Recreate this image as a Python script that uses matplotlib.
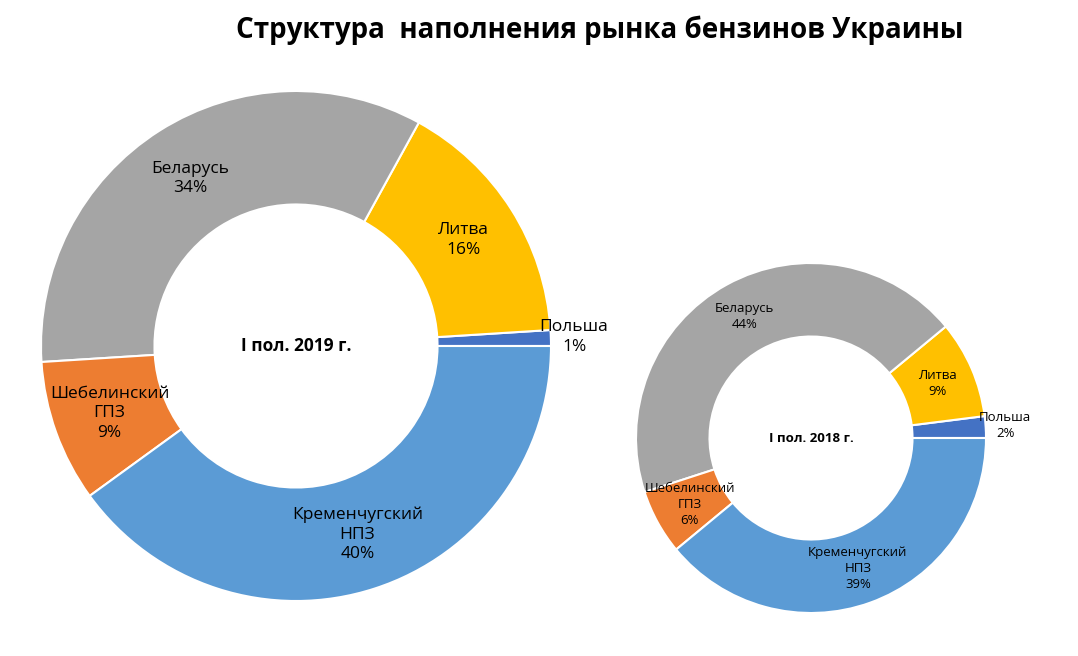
import matplotlib
matplotlib.use("Agg")
import matplotlib.pyplot as plt
import numpy as np

categories = ["Польша", "Литва", "Беларусь", "Шебелинский\nГПЗ", "Кременчугский\nНПЗ"]
values_2019 = [1, 16, 34, 9, 40]
values_2018 = [2, 9, 44, 6, 39]
colors = ["#4472C4", "#FFC000", "#A5A5A5", "#ED7D31", "#5B9BD5"]
title = "Структура  наполнения рынка бензинов Украины"

W, H = 1078, 656
fig = plt.figure(figsize=(W/100, H/100), dpi=100)
ax = fig.add_axes([0, 0, 1, 1])
font = "Open Sans"

def donut(vals, cx, cy, r, hole, fs, center_text, outside):
    ax.pie(vals, colors=colors, startangle=0, counterclock=True, center=(cx, H-cy),
           radius=r, frame=True,
           wedgeprops=dict(width=r*(1-hole), edgecolor="white", linewidth=1.5))
    cum = np.cumsum([0] + vals)
    for i, (lab, v) in enumerate(zip(categories, vals)):
        mid = np.deg2rad((cum[i] + cum[i+1]) / 2 * 3.6)
        rr = r*1.13 if i == 0 else r*(1+hole)/2
        x = cx + rr*np.cos(mid); y = H-cy + rr*np.sin(mid)
        if i == 0:
            x += outside
        ax.text(x, y, f"{lab}\n{v}%", ha="center", va="center", fontsize=fs,
                family=font, linespacing=1.3)
    ax.text(cx, H-cy, center_text, ha="center", va="center", fontsize=fs, weight="bold", family=font)

donut(values_2019, 296, 346, 255, 0.555, 12.5, "I пол. 2019 г.", -10)
donut(values_2018, 811, 438, 175, 0.58, 9.5, "I пол. 2018 г.", -3)
ax.text(600, H-30, title, ha="center", va="center", fontsize=20, weight="bold", family=font)
ax.set_xlim(0, W); ax.set_ylim(0, H); ax.set_aspect("auto"); ax.axis("off")
fig.savefig("out.png", dpi=100)
